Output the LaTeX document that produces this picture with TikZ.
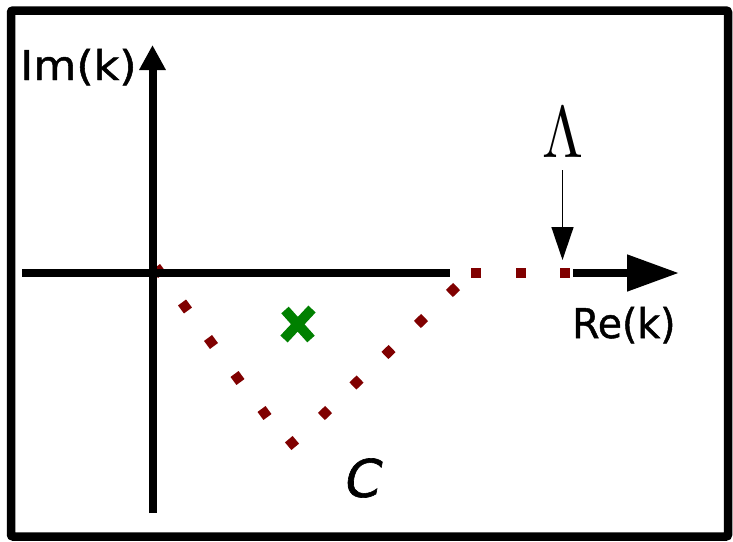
\documentclass[tikz,border=0pt]{standalone}
\usepackage{fontspec}
\newfontfamily\labelfont[FakeBold=1.2]{DejaVu Sans}
\newfontfamily\labelfontit[FakeBold=1.2,FakeSlant=0.2]{DejaVu Sans}
\usetikzlibrary{arrows.meta}
\definecolor{dotred}{RGB}{128,0,0}
\definecolor{xgreen}{RGB}{0,128,0}
\begin{document}
\begin{tikzpicture}[x=1pt,y=-1pt,
  axisline/.style={line width=8pt},
  dotmark/.style={rectangle, fill=dotred, draw=none, minimum size=10pt, inner sep=0pt},
  axislabel/.style={font=\labelfont\fontsize{41}{41}\selectfont, anchor=base west, inner sep=0pt}]
\useasboundingbox (0,0) rectangle (733,541);
% frame
\draw[line width=8.5pt, rounded corners=2pt] (11,10.5) rectangle (728,536.5);
% contour C dots
\foreach \x/\y [count=\i] in {159/271,185/306.5,211/342,237.5/378,264.5/413}
  \node[dotmark, rotate=36.4] (l\i) at (\x,\y) {};
\node[dotmark, rotate=40] (bot) at (292,443) {};
\foreach \x/\y [count=\i] in {325/413,356.5/382.5,388.5/352,421/321,453/290}
  \node[dotmark, rotate=44] (r\i) at (\x,\y) {};
\foreach \x [count=\i] in {476,521,565}
  \node[dotmark] (s\i) at (\x,273) {};
% axes
\coordinate (vb) at (152.5,513);
\coordinate (vt) at (152.5,45);
\coordinate (hl) at (22,273);
\coordinate (hm) at (450,273);
\coordinate (hr) at (573,273);
\coordinate (ht) at (679,273);
\draw[axisline, -{Triangle[length=25pt,width=25pt]}] (vb) -- (vt);
\draw[axisline] (hl) -- (hm);
\draw[axisline, -{Triangle[length=52pt,width=35pt]}] (hr) -- (ht);
% green cross
\draw[xgreen, line width=10pt] (285,310) -- (311,339) (312,309) -- (284,339);
% labels
\node[axislabel] (im) at (20,80) {\scalebox{1.08}[1]{Im(k)}};
\node[axislabel] (re) at (572,338) {\scalebox{0.96}[1]{Re(k)}};
\node[font=\labelfontit\fontsize{52}{52}\selectfont, inner sep=0pt] (C) at (360,478) {C};
\node[anchor=base, inner sep=0pt, outer ysep=13pt] (L) at (562.5,157) {\scalebox{5.9}[7.3]{$\Lambda$}};
\coordinate (ltip) at (562.5,260);
\draw[line width=1.4pt, -{Triangle[length=33pt,width=22pt]}] (L.south) -- (ltip);
\end{tikzpicture}
\end{document}
